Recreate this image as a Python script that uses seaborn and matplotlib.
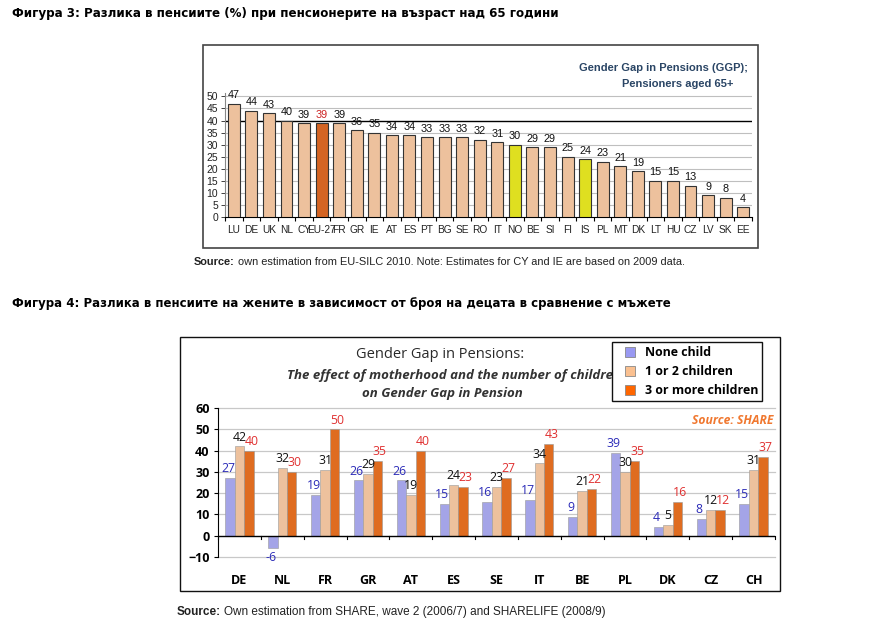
import matplotlib
matplotlib.use("Agg")
import matplotlib.pyplot as plt
import seaborn as sns
import pandas as pd
from matplotlib.patches import Rectangle
from matplotlib.lines import Line2D

# ---------------- data ----------------
top_countries = ["LU", "DE", "UK", "NL", "CY", "EU-27", "FR", "GR", "IE", "AT", "ES", "PT", "BG", "SE",
                 "RO", "IT", "NO", "BE", "SI", "FI", "IS", "PL", "MT", "DK", "LT", "HU", "CZ", "LV", "SK", "EE"]
top_values = [47, 44, 43, 40, 39, 39, 39, 36, 35, 34, 34, 33, 33, 33, 32, 31, 30, 29, 29, 25, 24, 23, 21,
              19, 15, 15, 13, 9, 8, 4]

bot_countries = ["DE", "NL", "FR", "GR", "AT", "ES", "SE", "IT", "BE", "PL", "DK", "CZ", "CH"]
none_child = [27, -6, 19, 26, 26, 15, 16, 17, 9, 39, 4, 8, 15]
one_two_children = [42, 32, 31, 29, 19, 24, 23, 34, 21, 30, 5, 12, 31]
three_plus_children = [40, 30, 50, 35, 40, 23, 27, 43, 22, 35, 16, 12, 37]
series_names = ["None child", "1 or 2 children", "3 or more children"]

W, H = 890, 638
fig = plt.figure(figsize=(W / 100, H / 100), dpi=100)
fig.patch.set_facecolor("white")
renderer = fig.canvas.get_renderer()


def px_axes(l, t, r, b):
    return fig.add_axes([l / W, 1 - b / H, (r - l) / W, (b - t) / H])


def fx(x):
    return x / W


def fy(y):
    return 1 - y / H


def source_line(x, y, rest, size):
    t = fig.text(fx(x), fy(y), "Source:", fontsize=size, fontweight="bold", family="Liberation Sans",
                 va="center", ha="left", color="#222222")
    bb = t.get_window_extent(renderer=renderer)
    fig.text(bb.x1 / W + 3 / W, fy(y), rest, fontsize=size, family="Liberation Sans",
             va="center", ha="left", color="#222222")


# ---------------- page texts ----------------
fig.text(fx(12), fy(13), "Фигура 3: Разлика в пенсиите (%) при пенсионерите на възраст над 65 години",
         fontsize=8.6, fontweight="bold", family="DejaVu Sans", va="center", ha="left")
fig.text(fx(12), fy(303), "Фигура 4: Разлика в пенсиите на жените в зависимост от броя на децата в сравнение с мъжете",
         fontsize=8.5, fontweight="bold", family="DejaVu Sans", va="center", ha="left")

source_line(194, 262, "own estimation from EU-SILC 2010. Note: Estimates for CY and IE are based on 2009 data.", 7.9)
source_line(177, 612, "Own estimation from SHARE, wave 2 (2006/7) and SHARELIFE (2008/9)", 8.5)

# frames
fig.add_artist(Rectangle((fx(203), fy(248)), (758 - 203) / W, (248 - 45) / H, transform=fig.transFigure,
                         fill=False, edgecolor="#444444", linewidth=1.2))
fig.add_artist(Rectangle((fx(180), fy(591)), (780 - 180) / W, (591 - 337) / H, transform=fig.transFigure,
                         fill=False, edgecolor="#111111", linewidth=1.0))

# ---------------- top chart ----------------
ax1 = px_axes(225, 93.5, 752, 217)
peach = "#FAC090"
top_colors = []
for c in top_countries:
    if c == "EU-27":
        top_colors.append("#F25C05")
    elif c in ("NO", "IS"):
        top_colors.append("#FFFF00")
    else:
        top_colors.append(peach)
df_top = pd.DataFrame({"country": top_countries, "value": top_values})
sns.barplot(data=df_top, x="country", y="value", hue="country", palette=top_colors, legend=False,
            width=0.68, edgecolor="#333333", linewidth=0.8, ax=ax1, zorder=3)
ax1.set_ylim(0, 51.2)
ax1.set_xlim(-0.5, len(top_countries) - 0.5)
ax1.set_yticks(range(0, 51, 5))
for v in range(5, 51, 5):
    ax1.axhline(v, color="#000000" if v == 40 else "#BFBFBF", linewidth=1.0 if v == 40 else 0.8, zorder=1)
for sp in ["top", "right"]:
    ax1.spines[sp].set_visible(False)
ax1.spines["left"].set_color("#888888")
ax1.spines["bottom"].set_color("#000000")
ax1.set_xlabel("")
ax1.set_ylabel("")
ax1.tick_params(axis="y", labelsize=7.5, length=3, pad=2, colors="#222222", width=0.6)
ax1.tick_params(axis="x", which="major", labelsize=7.3, length=0, pad=6, colors="#222222")
ax1.set_xticks([i + 0.5 for i in range(-1, len(top_countries))], minor=True)
ax1.tick_params(axis="x", which="minor", length=3, width=0.8, color="#000000")
for lab in ax1.get_xticklabels() + ax1.get_yticklabels():
    lab.set_family("Liberation Sans")
for cont in ax1.containers:
    for bar in cont:
        h = bar.get_height()
        if h != h:
            continue
        xc = bar.get_x() + bar.get_width() / 2
        col = "#CC2222" if top_countries[int(round(xc))] == "EU-27" else "#111111"
        ax1.text(xc, h + 1.4, f"{int(round(h))}", ha="center", va="bottom", fontsize=7.8,
                 family="Liberation Sans", color=col)
ax1.text(fx(748), fy(68), "Gender Gap in Pensions (GGP);", transform=fig.transFigure, ha="right", va="center",
         fontsize=8, fontweight="bold", color="#2A4565", family="Liberation Sans")
ax1.text(fx(733), fy(84), "Pensioners aged 65+", transform=fig.transFigure, ha="right", va="center",
         fontsize=8, fontweight="bold", color="#2A4565", family="Liberation Sans")

# ---------------- bottom chart ----------------
ax2 = px_axes(218, 408, 775, 557)
bot_colors = ["#9999F2", "#FAC090", "#FF6600"]
label_colors = ["#2B2BB8", "#111111", "#E03030"]
rows = []
for i, c in enumerate(bot_countries):
    rows.append({"country": c, "series": series_names[0], "value": none_child[i]})
    rows.append({"country": c, "series": series_names[1], "value": one_two_children[i]})
    rows.append({"country": c, "series": series_names[2], "value": three_plus_children[i]})
df_bot = pd.DataFrame(rows)
sns.barplot(data=df_bot, x="country", y="value", hue="series", hue_order=series_names, palette=bot_colors,
            width=0.66, gap=0, edgecolor="#999999", linewidth=0.4, ax=ax2, zorder=3, legend=False)
ax2.set_ylim(-10, 60)
ax2.set_xlim(-0.5, len(bot_countries) - 0.5)
ax2.set_yticks(range(-10, 61, 10))
for v in range(-10, 61, 10):
    if v != 0:
        ax2.axhline(v, color="#C8C8C8", linewidth=0.9, zorder=1, clip_on=False)
ax2.axhline(0, color="#000000", linewidth=1.0, zorder=4)
for sp in ["top", "right", "bottom"]:
    ax2.spines[sp].set_visible(False)
ax2.spines["left"].set_color("#000000")
ax2.set_xlabel("")
ax2.set_ylabel("")
ax2.tick_params(axis="y", labelsize=9, length=3, pad=3, width=0.8)
ax2.tick_params(axis="x", which="major", labelsize=9, length=0, pad=12)
ax2.set_xticks([i + 0.5 for i in range(-1, len(bot_countries))], minor=True)
for t in ax2.get_xticks(minor=True):
    ax2.plot([t, t], [0, -1.6], color="#000000", linewidth=0.8, zorder=4, clip_on=False)
ax2.tick_params(axis="x", which="minor", length=0)
for lab in ax2.get_xticklabels() + ax2.get_yticklabels():
    lab.set_fontweight("bold")
    lab.set_family("Open Sans")
x_shift = [-1.5, 0.0, 1.8]
for k, cont in enumerate(ax2.containers):
    anns = ax2.bar_label(cont, labels=[f"{v:.0f}" for v in cont.datavalues], padding=2, fontsize=8.8,
                         color=label_colors[k], family="Open Sans")
    for a in anns:
        dx, dy = a.xyann
        a.xyann = (dx + x_shift[k], dy)

handles = [Line2D([], [], linestyle="none", marker="s", markersize=6.5, markerfacecolor=c,
                  markeredgecolor="#888888", markeredgewidth=0.6) for c in bot_colors]
leg = ax2.legend(handles, series_names, loc="upper left", bbox_to_anchor=(fx(612), fy(342)),
                 bbox_transform=fig.transFigure,
                 frameon=True, fancybox=False, edgecolor="#111111", framealpha=1,
                 handlelength=2.2, handletextpad=0.15, labelspacing=0.5,
                 borderpad=0.32, borderaxespad=0,
                 prop={"weight": "bold", "family": "Open Sans", "size": 8.9})
leg.get_frame().set_linewidth(1.0)
leg.set_zorder(10)

fig.text(fx(440), fy(354), "Gender Gap in Pensions:", ha="center", va="center", fontsize=10.5, color="#2A2A2A",
         family="Open Sans")
fig.text(fx(287), fy(375), "The effect of motherhood and the number of children", ha="left", va="center",
         fontsize=9.5, fontweight="bold", fontstyle="italic", color="#333333", family="Open Sans", zorder=-1)
fig.text(fx(442), fy(394), "on Gender Gap in Pension", ha="center", va="center",
         fontsize=9.5, fontweight="bold", fontstyle="italic", color="#333333", family="Open Sans")
fig.text(fx(773), fy(421), "Source: SHARE", ha="right", va="center", fontsize=8.7, fontweight="bold",
         fontstyle="italic", color="#F07830", family="Open Sans")

fig.savefig("out.png", dpi=100, facecolor="white")
